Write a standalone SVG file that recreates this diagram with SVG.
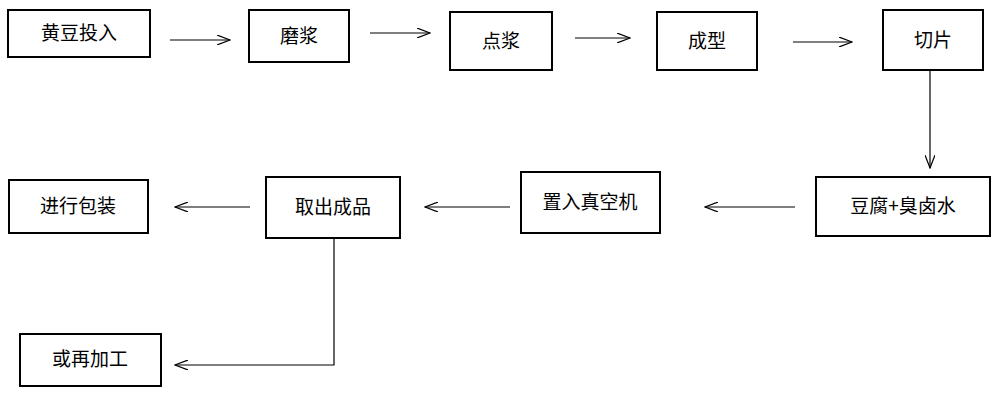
<svg xmlns="http://www.w3.org/2000/svg" width="1000" height="402" viewBox="0 0 1000 402">
<style>
.b{fill:#fff;stroke:#000;stroke-width:2}
.t{font-family:"Noto Sans CJK SC",sans-serif;font-size:19px;text-anchor:middle;fill:#000}
.c{fill:none;stroke:#000;stroke-width:1.2;marker-end:url(#a)}
</style>
<defs><marker id="a" markerWidth="14" markerHeight="10" refX="13" refY="5" orient="auto" markerUnits="userSpaceOnUse"><path d="M0,0 L13,5 L0,10" fill="none" stroke="#000" stroke-width="1.2"/></marker></defs>
<rect width="1000" height="402" fill="#fff"/>
<g id="n1"><rect class="b" x="8" y="10" width="142" height="47"/><text class="t" x="79" y="40">黄豆投入</text></g>
<g id="n2"><rect class="b" x="249" y="10" width="100" height="52"/><text class="t" x="299" y="43">磨浆</text></g>
<g id="n3"><rect class="b" x="450" y="12" width="102" height="58"/><text class="t" x="501" y="48">点浆</text></g>
<g id="n4"><rect class="b" x="657" y="12" width="100" height="58"/><text class="t" x="707" y="48">成型</text></g>
<g id="n5"><rect class="b" x="883" y="10" width="100" height="60"/><text class="t" x="933" y="47">切片</text></g>
<g id="n6"><rect class="b" x="816" y="177" width="174" height="59"/><text class="t" x="903" y="213">豆腐+臭卤水</text></g>
<g id="n7"><rect class="b" x="521" y="172" width="139" height="61"/><text class="t" x="590" y="209">置入真空机</text></g>
<g id="n8"><rect class="b" x="266" y="177" width="134" height="61"/><text class="t" x="333" y="214">取出成品</text></g>
<g id="n9"><rect class="b" x="9" y="180" width="139" height="53"/><text class="t" x="78" y="213">进行包装</text></g>
<g id="n10"><rect class="b" x="20" y="334" width="141" height="52"/><text class="t" x="90" y="366">或再加工</text></g>
<g id="connectors">
<path class="c" d="M170,40 H230"/>
<path class="c" d="M370,33 H430"/>
<path class="c" d="M575,38 H630"/>
<path class="c" d="M793,42 H852"/>
<path class="c" d="M930,70 V168"/>
<path class="c" d="M795,207 H705"/>
<path class="c" d="M510,207 H425"/>
<path class="c" d="M250,207 H175"/>
<path class="c" d="M334,238 V365 H175"/>
</g>
</svg>
